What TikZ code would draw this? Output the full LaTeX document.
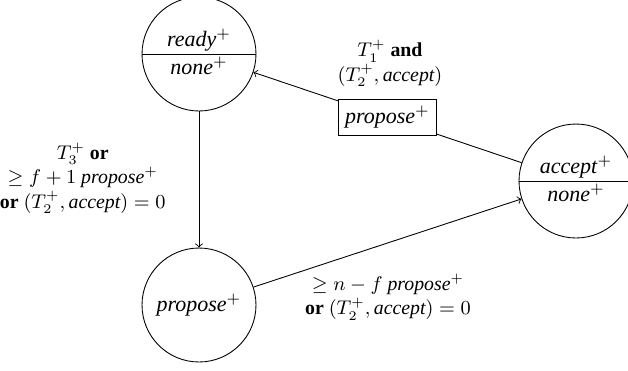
\documentclass[tikz,border=0pt]{standalone}
\usepackage[no-math]{fontspec}
\setmainfont{Liberation Serif}
\usetikzlibrary{shapes.multipart}
\begin{document}
\begin{tikzpicture}[x=0.4545pt,y=-0.4545pt,
  state/.style={circle, draw, minimum size=51.8pt, inner sep=1pt},
  splitstate/.style={circle split, draw, minimum size=51.8pt, inner sep=1pt},
  labelbox/.style={draw, fill=white, inner sep=3pt},
  lbl/.style={align=center, inner sep=0pt, font=\small}]
\useasboundingbox (0,0) rectangle (628,370);
\node[splitstate] (ready) at (199,54) {\textit{ready}$^+$ \nodepart{lower} \textit{none}$^+$};
\node[splitstate] (accept) at (576,181) {\textit{accept}$^+$ \nodepart{lower} \textit{none}$^+$};
\node[state] (propose) at (199,305) {\textit{propose}$^+$};
\draw[->] (accept) -- node[labelbox] (pbox) {\textit{propose}$^+$} (ready);
\node[lbl] (l1) at (390,63) {$T_1^+$ \textbf{and}\\$(T_2^+,\textit{accept})$};
\draw[->] (ready) -- (propose);
\node[lbl, anchor=east] (l2) at (166,178) {$T_3^+$ \textbf{or}\\$\geq f+1$ \textit{propose}$^+$\\\textbf{or} $(T_2^+,\textit{accept})=0$};
\draw[->] (propose) -- (accept);
\node[lbl] (l3) at (388,297) {$\geq n-f$ \textit{propose}$^+$\\\textbf{or} $(T_2^+,\textit{accept})=0$};
\end{tikzpicture}
\end{document}
